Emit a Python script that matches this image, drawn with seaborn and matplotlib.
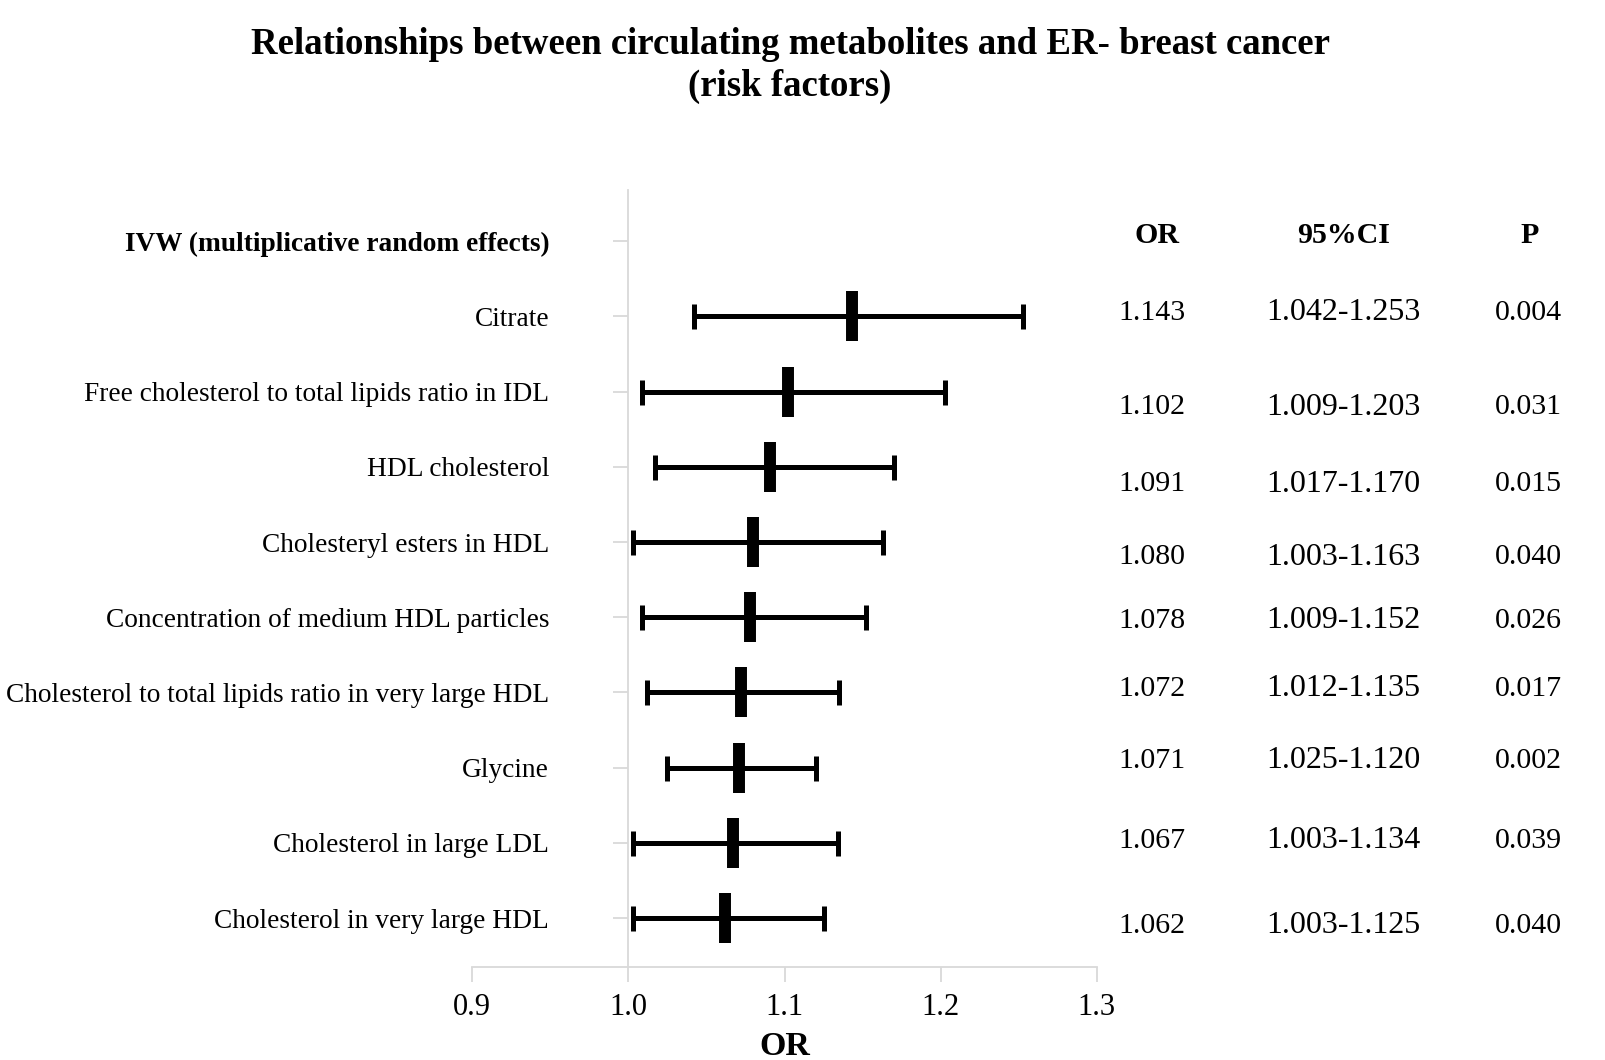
import matplotlib
matplotlib.use("Agg")
import matplotlib.pyplot as plt
import matplotlib.transforms as mtransforms
import numpy as np
import pandas as pd
import seaborn as sns

# data
metabolites = [
    "Citrate",
    "Free cholesterol to total lipids ratio in IDL",
    "HDL cholesterol",
    "Cholesteryl esters in HDL",
    "Concentration of medium HDL particles",
    "Cholesterol to total lipids ratio in very large HDL",
    "Glycine",
    "Cholesterol in large LDL",
    "Cholesterol in very large HDL",
]
odds_ratio = [1.143, 1.102, 1.091, 1.080, 1.078, 1.072, 1.071, 1.067, 1.062]
ci_low = [1.042, 1.009, 1.017, 1.003, 1.009, 1.012, 1.025, 1.003, 1.003]
ci_high = [1.253, 1.203, 1.170, 1.163, 1.152, 1.135, 1.120, 1.134, 1.125]
p_values = [0.004, 0.031, 0.015, 0.040, 0.026, 0.017, 0.002, 0.039, 0.040]
header_label = "IVW (multiplicative random effects)"
x_ticks = [0.9, 1.0, 1.1, 1.2, 1.3]

# the table text in the picture sits a bit off the rows
text_offset = [-0.05, 0.21, 0.23, 0.2, 0.05, -0.05, -0.09, -0.03, 0.1]

df = pd.DataFrame({"metabolite": metabolites, "OR": odds_ratio,
                   "lo": ci_low, "hi": ci_high, "P": p_values})
df["row"] = np.arange(1, len(df) + 1)

sns.set_style("white")
plt.rcParams["font.family"] = ["Liberation Serif", "DejaVu Serif"]
plt.rcParams["text.color"] = "black"
plt.rcParams["axes.labelcolor"] = "black"

fig = plt.figure(figsize=(16.06, 10.60), dpi=100)
ax = fig.add_axes([0.294, 0.0877, 0.389, 0.7331])

grey = "#d9d9d9"
ax.errorbar(df["OR"], df["row"],
            xerr=[df["OR"] - df["lo"], df["hi"] - df["OR"]],
            fmt="none", ecolor="black", elinewidth=3.6,
            capsize=9, capthick=3.6, zorder=3)
sns.scatterplot(data=df, x="OR", y="row", marker="|", s=1300,
                linewidth=8.6, color="black", ax=ax, zorder=4, legend=False)

ax.set_xlim(0.9, 1.3)
ax.set_ylim(9.65, -0.68)
ax.set_xticks(x_ticks, [f"{t:.1f}" for t in x_ticks])
ax.set_yticks(range(len(df) + 1), [header_label] + metabolites)

for s in ["top", "right"]:
    ax.spines[s].set_visible(False)
ax.spines["left"].set_position(("data", 1.0))
ax.spines["left"].set_color(grey)
ax.spines["bottom"].set_color(grey)
ax.spines["left"].set_linewidth(1.3)
ax.spines["bottom"].set_linewidth(1.3)
ax.tick_params(axis="y", left=True, direction="out", length=11, width=1.3,
               color=grey, labelcolor="black", pad=46, labelsize=19.7)
ax.tick_params(axis="x", bottom=True, direction="out", length=11, width=1.3,
               color=grey, labelcolor="black", pad=8, labelsize=22)
ax.set_xlabel("OR", fontsize=24.5, fontweight="bold", labelpad=6)
ax.set_ylabel("")
for lab in ax.get_yticklabels():
    if lab.get_text() == header_label:
        lab.set_fontweight("bold")

# right hand table
trans = mtransforms.blended_transform_factory(ax.transAxes, ax.transData)
heads = [(1.096, "OR"), (1.395, "95%CI"), (1.693, "P")]
cols = [(1.088, 21.5), (1.395, 23), (1.69, 21.5)]
for xpos, head in heads:
    ax.text(xpos, -0.07, head, transform=trans, ha="center", va="center",
            fontsize=21.5, fontweight="bold", clip_on=False)
for i, r in df.iterrows():
    y = r["row"] + text_offset[i]
    ax.text(cols[0][0], y, f"{r['OR']:.3f}", transform=trans, ha="center",
            va="center", fontsize=cols[0][1], clip_on=False)
    ax.text(cols[1][0], y, f"{r['lo']:.3f}-{r['hi']:.3f}", transform=trans,
            ha="center", va="center", fontsize=cols[1][1], clip_on=False)
    ax.text(cols[2][0], y, f"{r['P']:.3f}", transform=trans, ha="center",
            va="center", fontsize=cols[2][1], clip_on=False)

fig.text(0.492, 0.938, "Relationships between circulating metabolites and ER- breast cancer\n(risk factors)",
         ha="center", va="center", fontsize=26.5, fontweight="bold", linespacing=1.25)

fig.savefig("out.png", dpi=100)
